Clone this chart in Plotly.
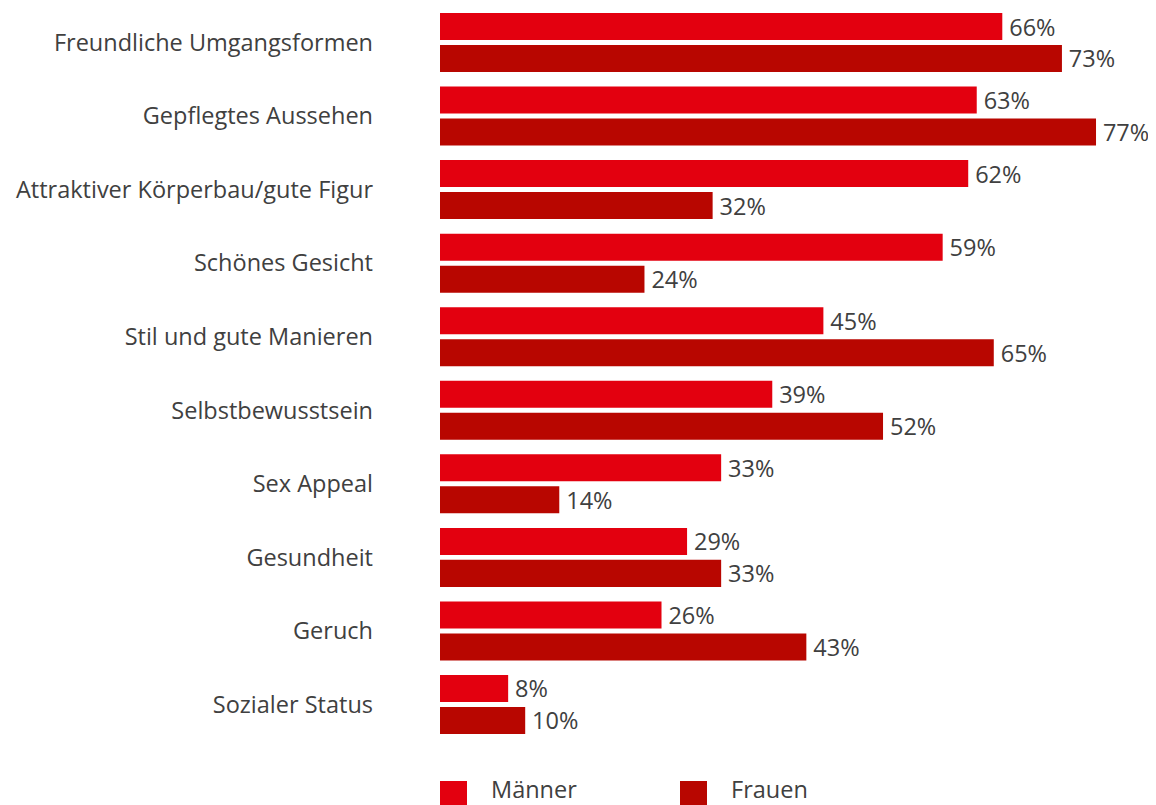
import plotly.graph_objects as go

categories = ["Freundliche Umgangsformen", "Gepflegtes Aussehen", "Attraktiver Körperbau/gute Figur",
              "Schönes Gesicht", "Stil und gute Manieren", "Selbstbewusstsein", "Sex Appeal",
              "Gesundheit", "Geruch", "Sozialer Status"]
maenner = [66, 63, 62, 59, 45, 39, 33, 29, 26, 8]
frauen = [73, 77, 32, 24, 65, 52, 14, 33, 43, 10]
series_names = ["Männer", "Frauen"]
colors = ["#e3000f", "#b80600"]

FONT = "Open Sans"
FS = 23.5
TXT = "#404040"

W, H = 1148, 797
ML, MR, MT, MB = 432, 0, 0, 58
PW, PH = W - ML - MR, H - MT - MB

fig = go.Figure()
for name, vals, col in zip(series_names, [maenner, frauen], colors):
    fig.add_trace(go.Bar(
        y=categories, x=vals, name=name, orientation="h",
        marker=dict(color=col, line=dict(width=0)),
        text=vals, texttemplate="\u2009%{x}%", textposition="outside",
        constraintext="none",
        textfont=dict(family=FONT, size=FS, color=TXT),
        cliponaxis=False, showlegend=False,
    ))

fig.update_layout(
    width=W, height=H,
    margin=dict(l=ML, r=MR, t=MT, b=MB, pad=0),
    barmode="group", bargap=0.13, bargroupgap=0.156,
    plot_bgcolor="white", paper_bgcolor="white",
    font=dict(family=FONT, size=FS, color=TXT),
    xaxis=dict(range=[0, 84.04], visible=False, fixedrange=True),
    yaxis=dict(range=[9.578, -0.469], showgrid=False, zeroline=False, showline=False,
               ticks="", ticklabelstandoff=66, tickfont=dict(family=FONT, size=FS, color=TXT)),
)

# legend drawn as swatches + text below the plot
def px_x(x):
    return (x - ML) / PW

def px_y(y):
    return (MT + PH - y) / PH

leg_x = [432, 672]
for i, (name, col) in enumerate(zip(series_names, colors)):
    fig.add_shape(type="rect", xref="paper", yref="paper",
                  x0=px_x(leg_x[i]), x1=px_x(leg_x[i] + 27),
                  y0=px_y(798), y1=px_y(773),
                  fillcolor=col, line=dict(width=0))
    fig.add_annotation(xref="paper", yref="paper",
                       x=px_x(leg_x[i] + 49), y=px_y(781),
                       text=name, showarrow=False, xanchor="left", yanchor="middle",
                       font=dict(family=FONT, size=FS, color=TXT))

fig.write_html("out.html")
